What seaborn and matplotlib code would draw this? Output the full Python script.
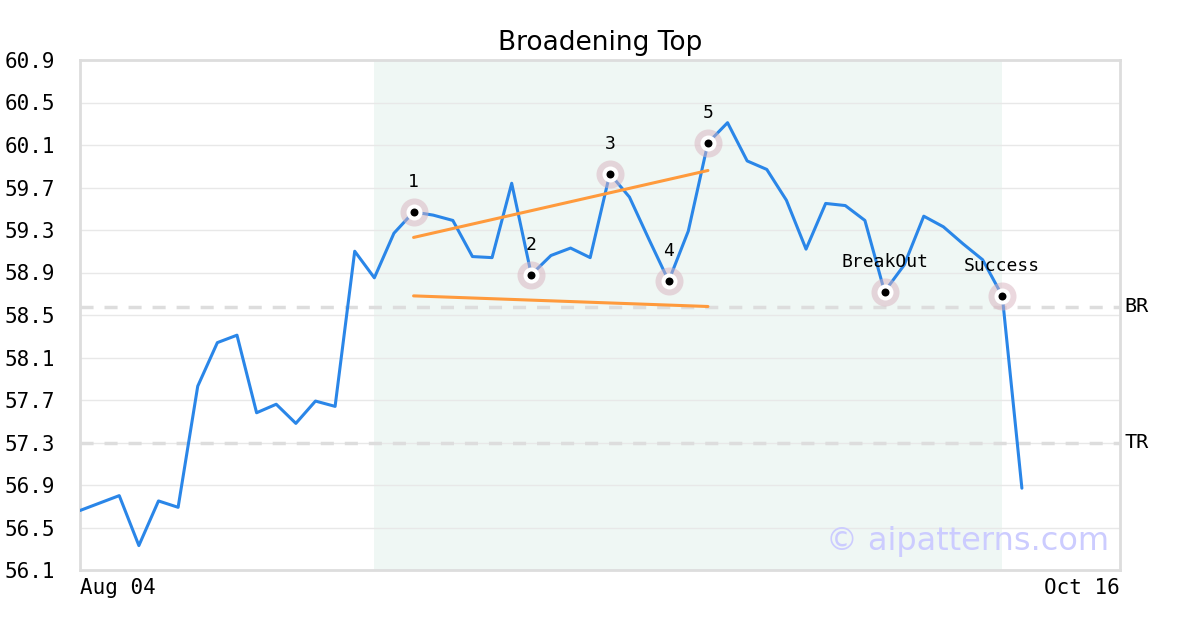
import numpy as np
import pandas as pd
import matplotlib
matplotlib.use("Agg")
import matplotlib.pyplot as plt
import seaborn as sns

# ---- data ----
prices = [56.66, 56.73, 56.80, 56.33, 56.75, 56.69, 57.83, 58.24, 58.31, 57.58,
          57.66, 57.48, 57.69, 57.64, 59.10, 58.85, 59.27, 59.47, 59.44, 59.39,
          59.05, 59.04, 59.74, 58.88, 59.06, 59.13, 59.04, 59.83, 59.61, 59.21,
          58.82, 59.29, 60.12, 60.31, 59.95, 59.87, 59.58, 59.12, 59.55, 59.53,
          59.39, 58.72, 58.97, 59.43, 59.33, 59.17, 59.02, 58.68, 56.87]
x_last = 53                      # axis extends to Oct 16
x_tick_pos = [0, 53]
x_tick_labels = ["Aug 04", "Oct 16"]
y_ticks = [56.1, 56.5, 56.9, 57.3, 57.7, 58.1, 58.5, 58.9, 59.3, 59.7, 60.1, 60.5, 60.9]

pivot_idx = [17, 23, 27, 30, 32]
pivot_labels = ["1", "2", "3", "4", "5"]
event_idx = [41, 47]
event_labels = ["BreakOut", "Success"]

upper_x = [17, 32]
upper_y = [59.23, 59.86]
lower_x = [17, 32]
lower_y = [58.68, 58.58]

shade_start, shade_end = 15, 47
BR = 58.58
TR = 57.30
title = "Broadening Top"
watermark = "\u00a9 aipatterns.com"

# ---- styling ----
sns.set_style("white")
plt.rcParams["font.family"] = ["DejaVu Sans"]
plt.rcParams["lines.scale_dashes"] = False
plt.rcParams["text.color"] = "black"
plt.rcParams["xtick.color"] = "black"
plt.rcParams["ytick.color"] = "black"
plt.rcParams["axes.labelcolor"] = "black"
plt.rcParams["axes.titlecolor"] = "black"
MONO = "DejaVu Sans Mono"
LINE_C = "#2a86e8"
ORANGE = "#ff9a3c"
GRID_C = "#e8e8e8"
SPINE_C = "#dddddd"

fig = plt.figure(figsize=(12, 6.3), dpi=100)
ax = fig.add_axes([80/1200, 60/630, 1040/1200, 510/630])

df = pd.DataFrame({"i": np.arange(len(prices)), "price": prices})

ax.axvspan(shade_start, shade_end, color="#eff7f4", zorder=0.1, lw=0)

ax.set_axisbelow(True)
ax.yaxis.grid(True, color=GRID_C, lw=1)
ax.xaxis.grid(False)

ax.axhline(BR, color="#dddddd", lw=2.5, linestyle=(0, (9.4, 7.9)), zorder=1)
ax.axhline(TR, color="#dddddd", lw=2.5, linestyle=(0, (9.4, 7.9)), zorder=1)

sns.lineplot(data=df, x="i", y="price", ax=ax, color=LINE_C, lw=2.2, zorder=3)

sns.lineplot(x=upper_x, y=upper_y, ax=ax, color=ORANGE, lw=2.2, zorder=4)
sns.lineplot(x=lower_x, y=lower_y, ax=ax, color=ORANGE, lw=2.2, zorder=4)

mark_idx = pivot_idx + event_idx
mark_df = pd.DataFrame({"i": mark_idx, "price": [prices[k] for k in mark_idx]})
sns.scatterplot(data=mark_df, x="i", y="price", ax=ax, s=408,
                color=(0.85, 0.70, 0.75), alpha=0.5, linewidth=0, zorder=5)
sns.scatterplot(data=mark_df, x="i", y="price", ax=ax, s=133,
                color="white", linewidth=0, zorder=6)
sns.scatterplot(data=mark_df, x="i", y="price", ax=ax, s=33,
                color="black", linewidth=0, zorder=7)

for k, lab in zip(pivot_idx + event_idx, pivot_labels + event_labels):
    ax.annotate(lab, (k, prices[k]), xytext=(0, 21.6), textcoords="offset points",
                ha="center", va="center", fontsize=13, family=MONO, zorder=8,
                color="black")

ax.set_xlim(0, x_last)
ax.set_ylim(y_ticks[0], y_ticks[-1])
ax.set_yticks(y_ticks)
ax.set_yticklabels([f"{v:.1f}" for v in y_ticks])
ax.set_xticks(x_tick_pos)
ax.set_xticklabels(x_tick_labels)
ax.set_xlabel("")
ax.set_ylabel("")
ax.tick_params(axis="y", length=0, pad=54, labelsize=15, labelfontfamily=MONO,
               labelcolor="black")
ax.tick_params(axis="x", length=0, pad=5.5, labelsize=15, labelfontfamily=MONO,
               labelcolor="black")
for t in ax.get_yticklabels():
    t.set_horizontalalignment("left")
xl = ax.get_xticklabels()
xl[0].set_horizontalalignment("left")
xl[-1].set_horizontalalignment("right")

for s in ax.spines.values():
    s.set_color(SPINE_C)
    s.set_linewidth(2)
    s.set_visible(True)

trans = ax.get_yaxis_transform()
ax.text(1.004, BR, "BR", transform=trans, ha="left", va="center", fontsize=14.5,
        family=MONO, color="black")
ax.text(1.004, TR, "TR", transform=trans, ha="left", va="center", fontsize=14.5,
        family=MONO, color="black")

ax.text(0.99, 0.055, watermark, transform=ax.transAxes, ha="right", va="center",
        fontsize=23, color="#ccccff", zorder=9)

ax.set_title(title, fontsize=19, pad=7, color="black")

fig.savefig("out.png", dpi=100)
